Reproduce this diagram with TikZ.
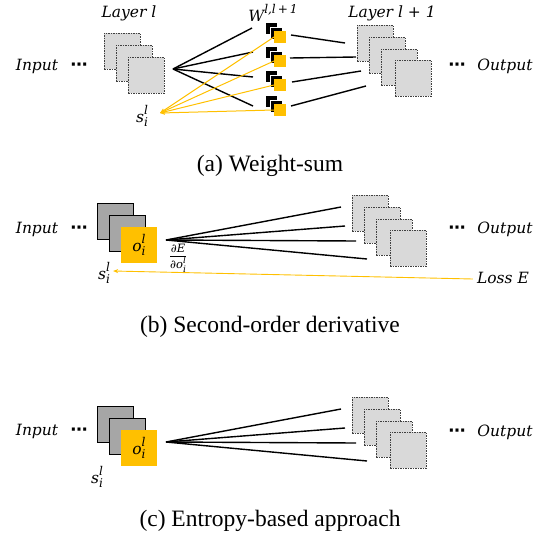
\documentclass[tikz,border=0pt]{standalone}
\usepackage{graphicx}
\usepackage{fontspec}
\setmainfont{DejaVu Serif}
\newfontfamily\capfont{Liberation Serif}
\newfontfamily\symfont{DejaVu Sans}
\usetikzlibrary{arrows.meta}
\definecolor{gold}{HTML}{FFC000}
\definecolor{lgray}{HTML}{D9D9D9}
\definecolor{mgray}{HTML}{A6A6A6}
\newcommand{\myit}[1]{\textit{#1}}
\newcommand{\mysc}[3]{\textit{#1}\rlap{\raisebox{-0.28em}{\scalebox{0.78}{\textit{#2}}}}\raisebox{0.5em}{\scalebox{0.78}{\textit{#3}}}}
\newcommand{\mysil}{\mysc{s}{i}{l}}
\newcommand{\myoil}{\mysc{o}{i}{l}}
\newcommand{\myell}{{\symfont\bfseries ⋯}}
\begin{document}
\begin{tikzpicture}[x=1pt,y=-1pt,
  dsq/.style={draw=black!75, dash pattern=on 1.5pt off 1pt, fill=lgray, line width=0.8pt, minimum size=36pt, inner sep=0pt, outer sep=0pt, anchor=north west},
  gsq/.style={draw=black, fill=mgray, line width=1pt, minimum size=36pt, inner sep=0pt, outer sep=0pt, anchor=north west},
  ysq/.style={fill=gold, minimum size=36pt, inner sep=0pt, outer sep=0pt, anchor=north west, font=\fontsize{15.5}{18}\selectfont},
  wy/.style={fill=gold, minimum size=12pt, inner sep=0pt, outer sep=0pt, anchor=north west},
  wb/.style={fill=black, draw=white, line width=0.6pt, minimum size=12pt, inner sep=0pt, anchor=north west},
  lab/.style={font=\fontsize{15.5}{18}\selectfont\itshape, inner sep=0pt},
  ellip/.style={font=\fontsize{17}{20}\selectfont, inner sep=0pt},
  captext/.style={font=\fontsize{23.5}{28}\selectfont\capfont, inner sep=0pt},
  fan/.style={line width=1.4pt},
  yl/.style={draw=gold, line width=1pt, -{Stealth[length=5pt,width=4pt]}}
]
\useasboundingbox (0,0) rectangle (539,541);

% ---------------- (a) Weight-sum ----------------
\node[lab] (inA) at (37,66) {Input};
\node[ellip] (dA) at (79,67) {\myell};
\node[lab] (layA) at (129,13) {Layer \myit{l}};
\node[dsq] (a1) at (104,33) {};
\node[dsq] (a2) at (116,45) {};
\node[dsq] (a3) at (128,57) {};
\coordinate (fa) at (173,69);
\coordinate (ea1) at (252,28);
\coordinate (ea2) at (253,52);
\coordinate (ea3) at (253,77);
\coordinate (ea4) at (253,106);
\foreach \i in {1,...,4} \draw[fan] (fa) -- (ea\i);
\node[lab] (W) at (273,13) {W\raisebox{0.5em}{\scalebox{0.78}{\textit{l},\textit{l}\,+\,1}}};
\foreach \i/\y in {1/31,2/55,3/79,4/104}{
  \node[wb] at (265,\y-9) {};
  \node[wb] at (269.5,\y-4.5) {};
  \node[wy] (w\i) at (274,\y) {};
}
\node[lab] (sA) at (142,116) {\mysil};
\coordinate (sa) at (160,113);
\foreach \i in {1,...,4} \draw[yl] (w\i.west) -- (sa);
\coordinate (ra1s) at (291,35);  \coordinate (ra1e) at (345,43);
\coordinate (ra2s) at (290,58);  \coordinate (ra2e) at (356,57);
\coordinate (ra3s) at (292,82);  \coordinate (ra3e) at (361,71);
\coordinate (ra4s) at (291,106); \coordinate (ra4e) at (366,86);
\foreach \i in {1,...,4} \draw[fan] (ra\i s) -- (ra\i e);
\node[lab] (layB) at (392,13) {Layer \myit{l} + 1};
\node[dsq] (b1) at (357,25) {};
\node[dsq] (b2) at (369,37) {};
\node[dsq] (b3) at (381,49) {};
\node[dsq] (b4) at (395,60) {};
\node[ellip] (dA2) at (457,67) {\myell};
\node[lab] (outA) at (505,66) {Output};
\node[captext] (capA) at (270,166) {(a) Weight-sum};

% ---------------- (b) Second-order derivative ----------------
\node[lab] (inB) at (37,229) {Input};
\node[ellip] (dB) at (79,230) {\myell};
\node[gsq] (g1) at (97,203) {};
\node[gsq] (g2) at (109,215) {};
\node[ysq] (yB) at (121,227) {\myoil};
\coordinate (fb) at (166,240);
\coordinate (eb1) at (341,207);
\coordinate (eb2) at (345,226);
\coordinate (eb3) at (356,241);
\coordinate (eb4) at (367,259);
\foreach \i in {1,...,4} \draw[fan] (fb) -- (eb\i);
\node[dsq] (c1) at (352,195) {};
\node[dsq] (c2) at (364,207) {};
\node[dsq] (c3) at (376,219) {};
\node[dsq] (c4) at (390,230) {};
\node[ellip] (dB2) at (457,230) {\myell};
\node[lab] (outB) at (505,229) {Output};
\node[inner sep=0pt, font=\fontsize{11.5}{13}\selectfont] (frac) at (178,258) {\renewcommand\arraystretch{0.95}\setlength\tabcolsep{0pt}\begin{tabular}{c}{\upshape ∂}\textit{E}\\ \hline \rule{0pt}{11pt}{\upshape ∂}\myoil\end{tabular}};
\node[lab] (sB) at (104,273) {\mysil};
\node[lab] (loss) at (503,278) {Loss \myit{E}};
\draw[yl, line width=0.9pt] ([xshift=-4pt,yshift=-1pt]loss.west) -- ([xshift=3pt,yshift=2pt]sB.east);
\node[captext] (capB) at (270,327) {(b) Second-order derivative};

% ---------------- (c) Entropy-based approach ----------------
\node[lab] (inC) at (37,431) {Input};
\node[ellip] (dC) at (79,432) {\myell};
\node[gsq] (h1) at (97,406) {};
\node[gsq] (h2) at (109,418) {};
\node[ysq] (yC) at (121,430) {\myoil};
\node[lab] (sC) at (97,477) {\mysil};
\coordinate (fc) at (166,442);
\coordinate (ec1) at (341,409);
\coordinate (ec2) at (345,428);
\coordinate (ec3) at (356,443);
\coordinate (ec4) at (367,461);
\foreach \i in {1,...,4} \draw[fan] (fc) -- (ec\i);
\node[dsq] (k1) at (352,397) {};
\node[dsq] (k2) at (364,409) {};
\node[dsq] (k3) at (376,421) {};
\node[dsq] (k4) at (390,432) {};
\node[ellip] (dC2) at (457,433) {\myell};
\node[lab] (outC) at (505,432) {Output};
\node[captext] (capC) at (270,521) {(c) Entropy-based approach};
\end{tikzpicture}
\end{document}
